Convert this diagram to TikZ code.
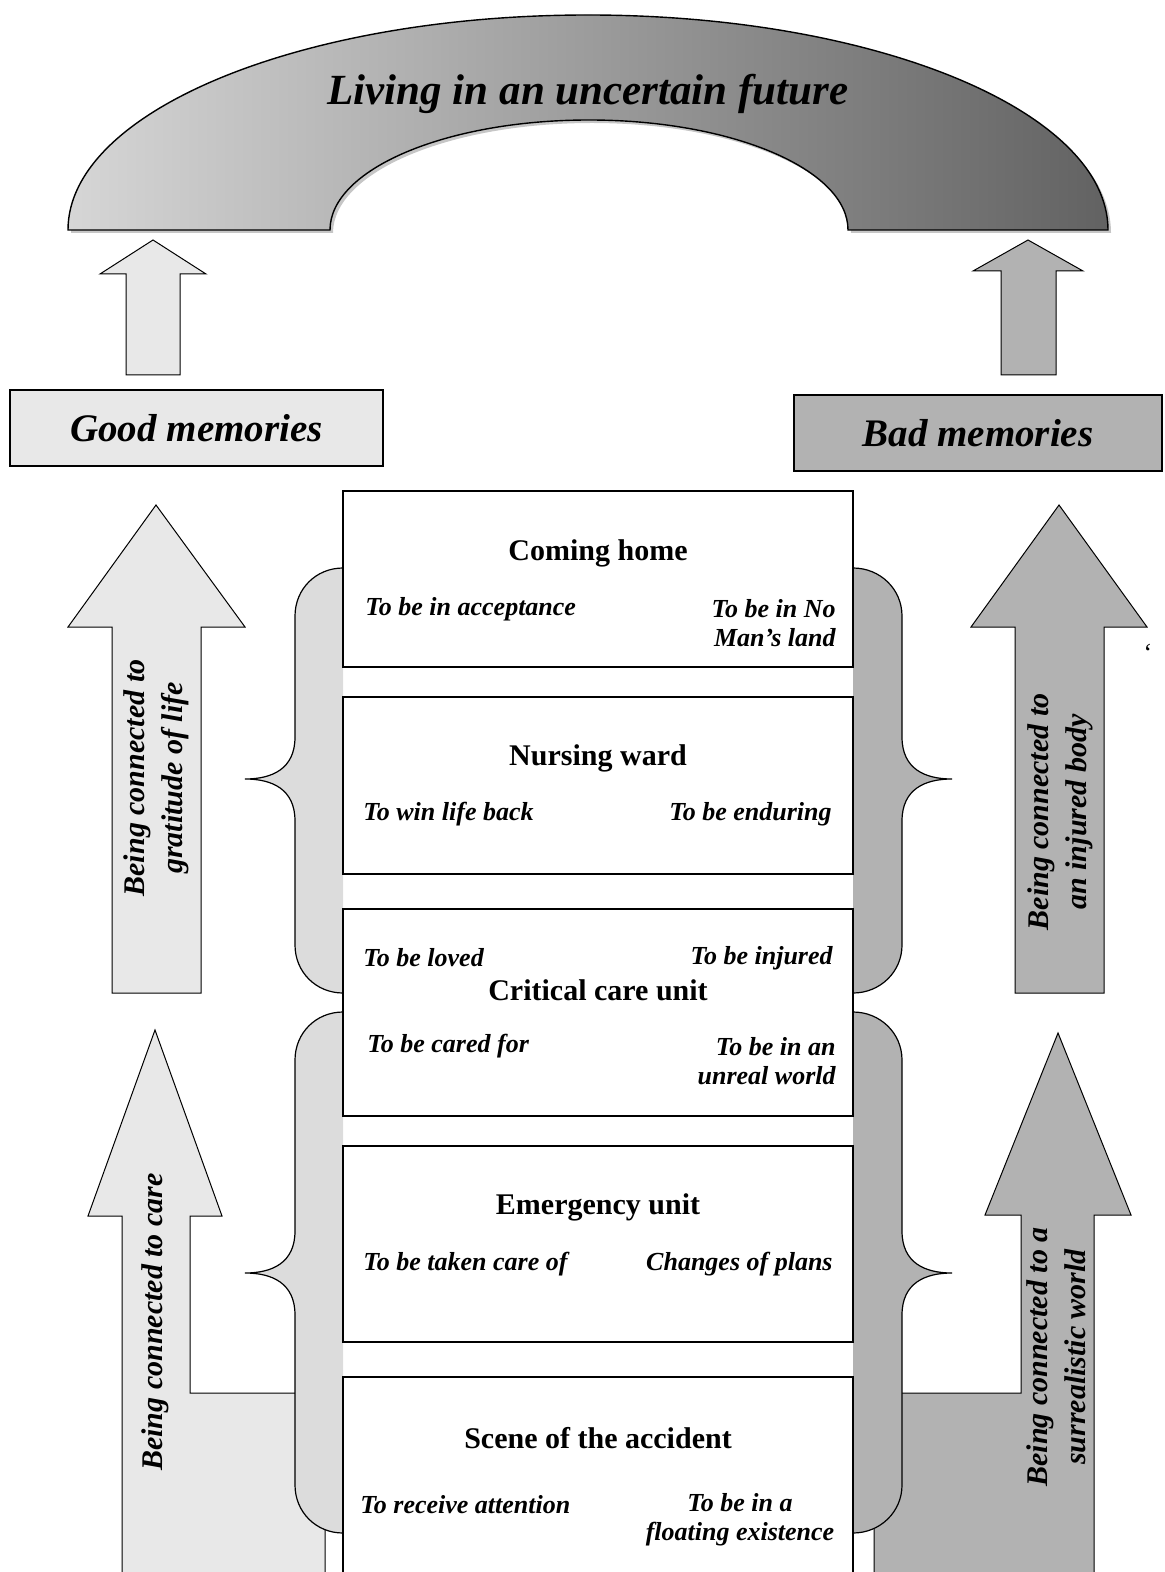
\documentclass[tikz,border=0pt]{standalone}
\usepackage{fontspec}
\setmainfont{Liberation Serif}
\definecolor{goodfill}{RGB}{232,232,232}
\definecolor{curlyl}{RGB}{220,220,220}
\definecolor{badfill}{RGB}{178,178,178}
\definecolor{archl}{RGB}{214,214,214}
\definecolor{archr}{RGB}{98,98,98}
% curly side pieces: #1 top, #2 tip, #3 bottom (pixels, counted downwards)
\newcommand{\leftcurly}[3]{%
  \filldraw[curly, fill=curlyl] (343,-#1) .. controls (316,-#1) and (295,-#1-21) .. (295,-#1-48)
    -- (295,-#2+42) .. controls (295,-#2+10) and (272,-#2) .. (245,-#2)
    .. controls (272,-#2) and (295,-#2-10) .. (295,-#2-42)
    -- (295,-#3+48) .. controls (295,-#3+21) and (316,-#3) .. (343,-#3);}
\newcommand{\rightcurly}[3]{%
  \filldraw[curly, fill=badfill] (853,-#1) .. controls (880,-#1) and (902,-#1-21) .. (902,-#1-48)
    -- (902,-#2+42) .. controls (902,-#2+10) and (925,-#2) .. (952,-#2)
    .. controls (925,-#2) and (902,-#2-10) .. (902,-#2-42)
    -- (902,-#3+48) .. controls (902,-#3+21) and (880,-#3) .. (853,-#3);}

\begin{document}
\begin{tikzpicture}[x=0.5pt, y=0.5pt,
    arrowshape/.style={draw, line width=0.5pt},
    curly/.style={draw, line width=0.6pt},
    stagebox/.style={draw, line width=0.8pt, fill=white},
    memo/.style={draw, line width=0.6pt, inner sep=0pt, minimum height=38pt,
      font=\fontsize{19.5}{22}\selectfont\bfseries\itshape},
    stagehead/.style={inner sep=0pt, font=\fontsize{15}{17}\selectfont\bfseries},
    lab/.style={inner sep=0pt, font=\fontsize{13}{14.5}\selectfont\bfseries\itshape},
    side/.style={rotate=90, align=center, inner sep=0pt,
      font=\fontsize{15}{19}\selectfont\bfseries\itshape}]
  \useasboundingbox (0,0) rectangle (1164,-1572);

  % arch
  \fill[gray!45, shift={(3,-3)}] (68,-230) arc[start angle=180, end angle=0, x radius=520, y radius=215]
    -- (848,-230) arc[start angle=0, end angle=180, x radius=259, y radius=110] -- cycle;
  \shade[left color=archl, right color=archr, draw=black, line width=0.7pt]
    (68,-230) arc[start angle=180, end angle=0, x radius=520, y radius=215]
    -- (848,-230) arc[start angle=0, end angle=180, x radius=259, y radius=110] -- cycle;
  \node[inner sep=0pt, font=\fontsize{21.5}{24}\selectfont\bfseries\itshape] (future) at (588,-94) {Living in an uncertain future};

  % small arrows up to the arch
  \filldraw[arrowshape, fill=goodfill] (126,-375) -- (126,-274) -- (100,-274) -- (153,-240)
    -- (206,-274) -- (180,-274) -- (180,-375) -- cycle;
  \filldraw[arrowshape, fill=badfill] (1001,-375) -- (1001,-271) -- (973,-271) -- (1028,-240)
    -- (1083,-271) -- (1056,-271) -- (1056,-375) -- cycle;

  % memories
  \node[memo, fill=goodfill, minimum width=186.5pt] (good) at (196.5,-428) {Good memories};
  \node[memo, fill=badfill, minimum width=184pt] (bad) at (978,-433) {Bad memories};

  % big arrows
  \filldraw[arrowshape, fill=goodfill] (112,-993) -- (112,-627) -- (68,-627) -- (156,-505)
    -- (245,-627) -- (201,-627) -- (201,-993) -- cycle;
  \filldraw[arrowshape, fill=badfill] (1015,-993) -- (1015,-627) -- (971,-627) -- (1059,-505)
    -- (1147,-627) -- (1104,-627) -- (1104,-993) -- cycle;
  \filldraw[arrowshape, fill=goodfill] (122,-1580) -- (122,-1216) -- (88,-1216) -- (155,-1030)
    -- (222,-1216) -- (190,-1216) -- (190,-1393) -- (325,-1393) -- (325,-1580);
  \filldraw[arrowshape, fill=badfill] (1094,-1580) -- (1094,-1215) -- (1131,-1215) -- (1058,-1033)
    -- (985,-1215) -- (1021,-1215) -- (1021,-1393) -- (874,-1393) -- (874,-1580);

  % curly sides
  \leftcurly{568}{779}{993}
  \rightcurly{568}{779}{993}
  \leftcurly{1012}{1273}{1533}
  \rightcurly{1012}{1273}{1533}

  % stages
  \filldraw[stagebox] (343,-491) rectangle (853,-667);
  \filldraw[stagebox] (343,-697) rectangle (853,-874);
  \filldraw[stagebox] (343,-909) rectangle (853,-1116);
  \filldraw[stagebox] (343,-1146) rectangle (853,-1342);
  \filldraw[stagebox] (343,-1580) -- (343,-1377) -- (853,-1377) -- (853,-1580);

  \node[stagehead] (home) at (598,-553) {Coming home};
  \node[lab, anchor=west] (accept) at (365,-609) {To be in acceptance};
  \node[lab, anchor=east, align=right] (noman) at (836,-623) {To be in No\\Man’s land};

  \node[stagehead] (ward) at (598,-758) {Nursing ward};
  \node[lab, anchor=west] (winback) at (363,-814) {To win life back};
  \node[lab, anchor=east] (endure) at (832,-814) {To be enduring};

  \node[lab, anchor=west] (loved) at (363,-958) {To be loved};
  \node[lab, anchor=east] (injured) at (833,-958) {To be injured};
  \node[stagehead] (critical) at (598,-990) {Critical care unit};
  \node[lab, anchor=west] (caredfor) at (367,-1046) {To be cared for};
  \node[lab, anchor=east, align=right] (unreal) at (836,-1061) {To be in an\\unreal world};

  \node[stagehead] (emergency) at (598,-1207) {Emergency unit};
  \node[lab, anchor=west] (takencare) at (363,-1264) {To be taken care of};
  \node[lab, anchor=east] (plans) at (833,-1264) {Changes of plans};

  \node[stagehead] (scene) at (598,-1438) {Scene of the accident};
  \node[lab, anchor=west] (attention) at (360,-1505) {To receive attention};
  \node[lab, align=center] (floating) at (740,-1520) {To be in a\\floating existence};

  % side labels
  \node[side] (gratitude) at (156,-778) {Being connected to\\gratitude of life};
  \node[side] (body) at (1060,-812) {Being connected to\\an injured body};
  \node[side] (care) at (155,-1322) {Being connected to care};
  \node[side] (surreal) at (1056,-1357) {Being connected to a\\surrealistic world};

  \node[inner sep=0pt, font=\fontsize{13}{14}\selectfont] (tick) at (1148,-653) {\symbol{96}};
\end{tikzpicture}
\end{document}
